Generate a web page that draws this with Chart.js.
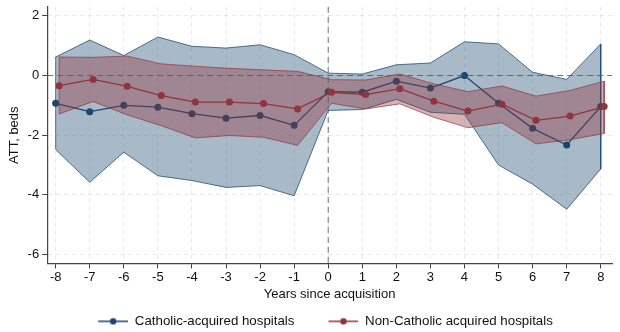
<!DOCTYPE html>
<html>
<head>
<meta charset="utf-8">
<script src="https://cdn.jsdelivr.net/npm/chart.js@4"></script>
<style>
  html, body { margin: 0; padding: 0; background: #fff; }
  #wrap { width: 620px; height: 332px; }
</style>
</head>
<body>
<div id="wrap"><canvas id="att"></canvas></div>
<script>
// event time, years since acquisition
const years = [-8, -7, -6, -5, -4, -3, -2, -1, 0, 1, 2, 3, 4, 5, 6, 7, 8];

// Catholic-acquired hospitals: estimate and 95% CI
const catholicAtt = [-0.93, -1.21, -1.00, -1.06, -1.28, -1.43, -1.34, -1.67, -0.54, -0.56, -0.19, -0.42, 0.00, -0.93, -1.77, -2.33, -1.04];
const catholicHi  = [0.62, 1.19, 0.67, 1.29, 0.98, 0.92, 1.03, 0.70, 0.08, 0.05, 0.36, 0.42, 1.13, 1.06, 0.11, -0.13, 1.06];
const catholicLo  = [-2.48, -3.58, -2.57, -3.36, -3.52, -3.75, -3.69, -4.03, -1.17, -1.14, -0.80, -1.23, -1.30, -3.00, -3.64, -4.48, -3.13];

// Non-Catholic acquired hospitals: estimate and 95% CI
const nonCatholicAtt = [-0.34, -0.13, -0.36, -0.67, -0.89, -0.89, -0.94, -1.12, -0.56, -0.64, -0.44, -0.86, -1.19, -0.96, -1.50, -1.36, -1.04];
const nonCatholicHi  = [0.62, 0.61, 0.65, 0.39, 0.31, 0.24, 0.19, 0.14, -0.14, -0.15, 0.05, -0.28, -0.54, -0.35, -0.69, -0.50, -0.19];
const nonCatholicLo  = [-1.29, -0.87, -1.32, -1.68, -2.09, -2.01, -2.07, -2.34, -0.93, -1.12, -0.95, -1.40, -1.75, -1.58, -2.29, -2.15, -1.94];

// the two series are dodged a little on the x axis
const dodge = 0.1;

const yTicks = [-6, -4, -2, 0, 2];

const navy = 'rgb(26,71,111)';
const maroon = 'rgb(144,53,59)';
const font = { family: '"Liberation Sans", Arial, sans-serif', size: 13 };

function pts(ys, shift) {
  return years.map((x, i) => ({ x: x + shift, y: ys[i] }));
}
// closed outline of a CI band: upper left->right, lower right->left
function outline(hi, lo, shift) {
  const up = pts(hi, shift);
  const down = pts(lo, shift).reverse();
  return up.concat(down, [up[0]]);
}

// "line with a dot" legend symbol, with blank room on its left as item spacing
const iconGap = 32, iconLine = 30;
function legendIcon(color) {
  const c = document.createElement('canvas');
  c.width = iconGap + iconLine; c.height = 10;
  const g = c.getContext('2d');
  g.strokeStyle = color; g.lineWidth = 1.5;
  g.beginPath(); g.moveTo(iconGap, 5); g.lineTo(iconGap + iconLine, 5); g.stroke();
  g.fillStyle = color;
  g.beginPath(); g.arc(iconGap + iconLine / 2, 5, 3.2, 0, Math.PI * 2); g.fill();
  return c;
}

// dashed reference lines at x = 0 and y = 0, drawn on top
const zeroLines = {
  id: 'zeroLines',
  afterDatasetsDraw(chart) {
    const { ctx, chartArea: a, scales: { x, y } } = chart;
    const px = x.getPixelForValue(0);
    const py = y.getPixelForValue(0);
    ctx.save();
    ctx.strokeStyle = 'rgba(90,90,90,0.85)';
    ctx.lineWidth = 1;
    ctx.setLineDash([6, 4]);
    ctx.beginPath();
    ctx.moveTo(px, a.top); ctx.lineTo(px, a.bottom);
    ctx.moveTo(a.left, py); ctx.lineTo(a.right, py);
    ctx.stroke();
    ctx.restore();
  }
};

const band = (data, color, fillTo, order) => ({
  data: data, showLine: true, pointRadius: 0, borderWidth: 0,
  backgroundColor: color, fill: fillTo, order: order, tension: 0
});

new Chart(document.getElementById('att'), {
  type: 'scatter',
  data: {
    datasets: [
      // 0,1: Catholic band fill
      band(pts(catholicHi, 0), 'rgba(26,71,111,0.38)', 1, 5),
      band(pts(catholicLo, 0), 'rgba(0,0,0,0)', false, 5),
      // 2: Catholic band outline
      { data: outline(catholicHi, catholicLo, 0), showLine: true, pointRadius: 0,
        borderColor: 'rgba(26,71,111,0.75)', borderWidth: 1, fill: false, order: 4 },
      // 3: Catholic estimate
      { label: 'Catholic-acquired hospitals', inLegend: true, data: pts(catholicAtt, 0), showLine: true,
        borderColor: navy, backgroundColor: navy, borderWidth: 1.3,
        pointRadius: 3.5, pointBorderWidth: 0, order: 3 },
      // 4,5: non-Catholic band fill
      band(pts(nonCatholicHi, dodge), 'rgba(144,53,59,0.38)', 5, 2),
      band(pts(nonCatholicLo, dodge), 'rgba(0,0,0,0)', false, 2),
      // 6: non-Catholic band outline
      { data: outline(nonCatholicHi, nonCatholicLo, dodge), showLine: true, pointRadius: 0,
        borderColor: 'rgba(144,53,59,0.7)', borderWidth: 1, fill: false, order: 1 },
      // 7: non-Catholic estimate
      { label: 'Non-Catholic acquired hospitals', inLegend: true, data: pts(nonCatholicAtt, dodge), showLine: true,
        borderColor: maroon, backgroundColor: maroon, borderWidth: 1.3,
        pointRadius: 3.5, pointBorderWidth: 0, order: 0 }
    ]
  },
  options: {
    responsive: true,
    maintainAspectRatio: false,
    animation: false,
    layout: { padding: { top: 0, right: 8, left: 7, bottom: -6 } },
    plugins: {
      tooltip: { enabled: false },
      legend: {
        position: 'bottom',
        labels: {
          usePointStyle: true,
          pointStyleWidth: iconGap + iconLine,
          padding: 2,
          color: '#111',
          font: { family: font.family, size: 13.3 },
          filter: (item, data) => data.datasets[item.datasetIndex].inLegend === true,
          sort: (a, b) => a.datasetIndex - b.datasetIndex,
          generateLabels(chart) {
            const items = Chart.defaults.plugins.legend.labels.generateLabels(chart);
            items.forEach(it => {
              const ds = chart.data.datasets[it.datasetIndex];
              it.pointStyle = legendIcon(ds.borderColor);
            });
            return items;
          }
        }
      }
    },
    scales: {
      x: {
        type: 'linear',
        min: -8.25, max: 8.33,
        afterBuildTicks: s => { s.ticks = years.map(v => ({ value: v })); },
        ticks: { color: '#111', font: font, padding: 1 },
        grid: { color: 'rgba(0,0,0,0.09)', tickColor: '#444', tickLength: 5 },
        border: { color: '#444', width: 1.2, dash: [4, 4] },
        title: {
          display: true, text: 'Years since acquisition', color: '#111', font: font,
          padding: { top: 1, bottom: 10 }
        }
      },
      y: {
        min: -6.3, max: 2.3,
        afterBuildTicks: s => { s.ticks = yTicks.map(v => ({ value: v })); },
        ticks: { color: '#111', font: { family: font.family, size: 13, lineHeight: 0.6 }, padding: 3 },
        grid: { color: 'rgba(0,0,0,0.09)', tickColor: '#444', tickLength: 5 },
        border: { color: '#444', width: 1.2, dash: [4, 4] },
        title: {
          display: true, text: 'ATT, beds', color: '#111', font: font,
          padding: { top: 0, bottom: 2 }
        }
      }
    }
  },
  plugins: [zeroLines]
});
</script>
</body>
</html>
